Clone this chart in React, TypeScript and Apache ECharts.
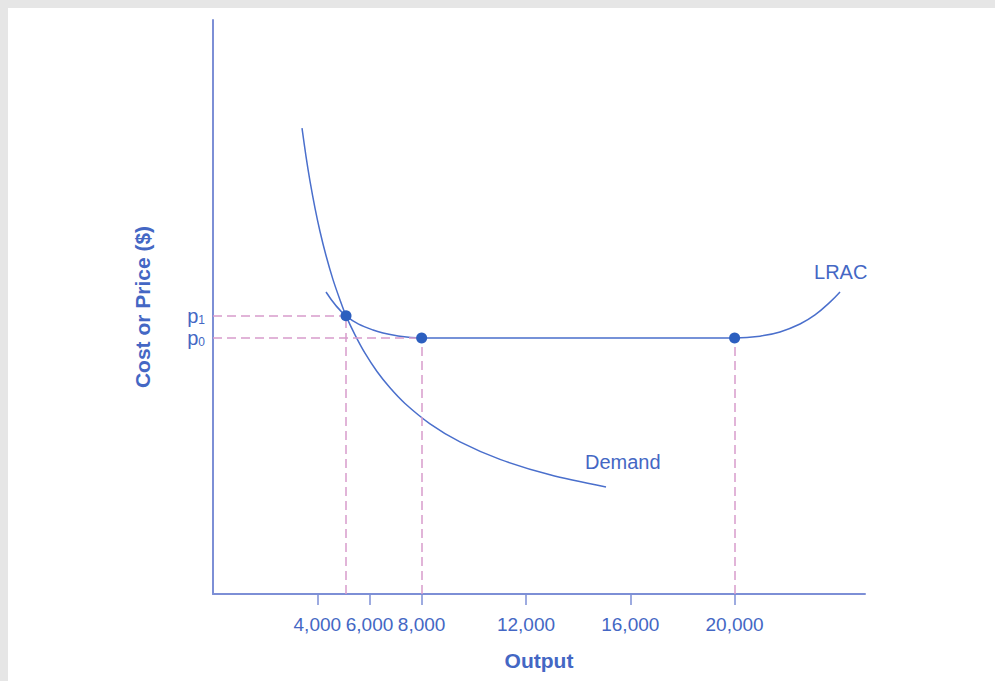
import React, { useEffect, useRef } from "react";
import * as echarts from "echarts";

// Output (x) and Cost/Price (y) values
const demandQ = [3413, 3566, 3719, 3911, 4103, 4333, 4601, 4870, 5100, 5445, 5828, 6288, 6787, 7362, 8321, 9471, 11005, 12922, 15069];
const demandP = [21.1, 19.82, 18.7, 17.48, 16.42, 15.33, 14.24, 13.32, 12.6, 11.74, 10.91, 10.08, 9.34, 8.63, 7.71, 6.89, 6.1, 5.4, 4.85];

const lracQ = [4333, 5100, 6135, 7170, 8000, 12000, 16000, 20000, 20974, 21741, 22508, 23083, 23658, 24042];
const lracP = [13.68, 12.6, 11.96, 11.68, 11.6, 11.6, 11.6, 11.6, 11.68, 11.87, 12.23, 12.64, 13.22, 13.68];

const pointQ = [5100, 8000, 20000];
const pointP = [12.6, 11.6, 11.6];

const P1 = 12.6;
const P0 = 11.6;

const xTicks = [4000, 6000, 8000, 12000, 16000, 20000];
const xTickLabels = ["4,000", "6,000", "8,000", "12,000", "16,000", "20,000"];
const yTicks = [P0, P1];
const yTickLabels = ["{p|p}{s|0}", "{p|p}{s|1}"];

const FONT = "'Liberation Sans', Arial, Helvetica, sans-serif";
const TEXT = "#4467c4";
const AXIS = "#7d8fd6";
const CURVE = "#4a6fcc";
const DOT = "#2c5fbf";
const DASH = "#d89ccc";

export default function App() {
  const ref = useRef<HTMLDivElement>(null);
  useEffect(() => {
    document.body.style.margin = "8px 0 0 8px";
    document.body.style.background = "#e6e6e6";
    document.body.style.overflow = "hidden";
    const chart = echarts.init(ref.current!, null, { renderer: "svg" });
    const zip = (a: number[], b: number[]) => a.map((v, i) => [v, b[i]]);
    const dashLines = [
      [{ coord: [0, P1] }, { coord: [pointQ[0], P1] }],
      [{ coord: [0, P0] }, { coord: [pointQ[1], P0] }],
      ...pointQ.map((q, i) => [{ coord: [q, 0] }, { coord: [q, pointP[i]] }]),
    ];
    chart.setOption({
      animation: false,
      grid: { left: 205, top: 12, width: 652, bottom: 87, containLabel: false },
      xAxis: {
        type: "value",
        min: 0,
        max: 25000,
        name: "Output",
        nameLocation: "middle",
        nameGap: 56,
        nameTextStyle: { color: TEXT, fontSize: 21, fontWeight: "bold", fontFamily: FONT },
        axisLine: { show: true, lineStyle: { color: AXIS, width: 2 } },
        axisTick: {
          show: true,
          length: 11,
          customValues: xTicks,
          lineStyle: { color: AXIS, width: 1.5 },
        },
        axisLabel: {
          customValues: xTicks,
          margin: 21,
          color: TEXT,
          fontSize: 19,
          fontFamily: FONT,
          hideOverlap: false,
          formatter: (v: number) => xTickLabels[xTicks.indexOf(v)] ?? "",
        },
        splitLine: { show: false },
      },
      yAxis: {
        type: "value",
        min: 0,
        max: 26,
        name: "Cost or Price ($)",
        nameLocation: "middle",
        nameGap: 60,
        nameTextStyle: { color: TEXT, fontSize: 21, fontWeight: "bold", fontFamily: FONT },
        axisLine: { show: true, lineStyle: { color: AXIS, width: 2 } },
        axisTick: { show: false },
        axisLabel: {
          customValues: yTicks,
          margin: 8,
          color: TEXT,
          fontFamily: FONT,
          hideOverlap: false,
          formatter: (v: number) => yTickLabels[yTicks.indexOf(v)] ?? "",
          rich: {
            p: { fontSize: 20, lineHeight: 17, color: TEXT, fontFamily: FONT },
            s: { fontSize: 12, lineHeight: 9, color: TEXT, fontFamily: FONT, padding: [8, 0, 0, 0] },
          },
        },
        splitLine: { show: false },
      },
      series: [
        {
          type: "line",
          data: [],
          silent: true,
          z: 1,
          markLine: {
            silent: true,
            symbol: ["none", "none"],
            label: { show: false },
            lineStyle: { color: DASH, width: 1.5, type: [9, 5] },
            data: dashLines,
          },
        },
        {
          type: "line",
          name: "Demand",
          data: zip(demandQ, demandP),
          smooth: 0.3,
          showSymbol: false,
          z: 3,
          lineStyle: { color: CURVE, width: 1.5 },
          endLabel: {
            show: true,
            formatter: "Demand",
            color: TEXT,
            fontSize: 20,
            fontFamily: FONT,
            offset: [-29, -25],
          },
        },
        {
          type: "line",
          name: "LRAC",
          data: zip(lracQ, lracP),
          smooth: 0.4,
          showSymbol: false,
          z: 3,
          lineStyle: { color: CURVE, width: 1.5 },
          endLabel: {
            show: true,
            formatter: "LRAC",
            color: TEXT,
            fontSize: 20,
            fontFamily: FONT,
            offset: [-34, -20],
          },
        },
        {
          type: "scatter",
          data: zip(pointQ, pointP),
          symbolSize: 11,
          z: 5,
          itemStyle: { color: DOT, opacity: 1 },
        },
      ],
    });
    return () => chart.dispose();
  }, []);
  return <div ref={ref} style={{ width: 987, height: 673, background: "#ffffff" }} />;
}
